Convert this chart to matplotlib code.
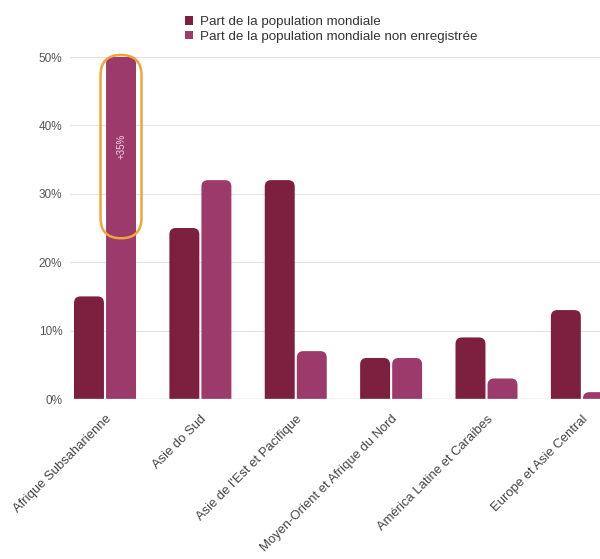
import matplotlib
matplotlib.use("Agg")
import matplotlib.pyplot as plt
from matplotlib.patches import FancyBboxPatch, Patch, Rectangle

plt.rcParams['font.family'] = ['Liberation Sans', 'DejaVu Sans']

regions = ["Afrique Subsaharienne", "Asie do Sud", "Asie de l'Est et Pacifique",
           "Moyen-Orient et Afrique du Nord", "América Latine et Caraibes",
           "Europe et Asie Central"]
part_mondiale = [15, 25, 32, 6, 9, 13]
part_non_enreg = [50, 32, 7, 6, 3, 1]
series_names = ["Part de la population mondiale",
                "Part de la population mondiale non enregistrée"]
yticks = [0, 10, 20, 30, 40, 50]

dark = "#7d1f3e"
light = "#9c3a6c"

W, H = 600, 559
fig = plt.figure(figsize=(W / 100, H / 100), dpi=100)
ax = fig.add_axes([70 / W, 1 - 399 / H, 530 / W, (399 - 57) / H])

xmin, xmax = -0.367, 5.19
ymin, ymax = 0, 50
ax.set_xlim(xmin, xmax)
ax.set_ylim(ymin, ymax)

px_x = 530 / (xmax - xmin)
px_y = (399 - 57) / (ymax - ymin)
aspect = px_x / px_y

bw = 0.314
off = 0.168
r = 6.5 / px_x

# keep bars above zero, but let the tallest one poke over the top
clip = Rectangle((xmin, 0), xmax - xmin, 60, transform=ax.transData)


def rounded_bar(xc, h, color):
    p = FancyBboxPatch((xc - bw / 2, -r * aspect), bw, h + r * aspect,
                       boxstyle=f"round,pad=0,rounding_size={r}",
                       mutation_aspect=aspect, fc=color, ec="none",
                       zorder=3)
    ax.add_patch(p)
    p.set_clip_path(clip)


xs = range(len(regions))
for i in xs:
    rounded_bar(i - off, part_mondiale[i], dark)
    rounded_bar(i + off, part_non_enreg[i], light)

ax.axhline(0, color="#cccccc", lw=1, zorder=5)

# annotation oval around first non-registered bar
ow = 41 / px_x
oval = FancyBboxPatch((0 + off - ow / 2, 23.5), ow, 26.8,
                      boxstyle=f"round,pad=0,rounding_size={ow / 2}",
                      mutation_aspect=aspect, fc="none", ec="#f0a43a",
                      lw=1.8, clip_on=False, zorder=6)
ax.add_patch(oval)
ax.text(0 + off, 37, "+35%", rotation=90, color="#f4d4e6", fontsize=7,
        ha="center", va="center", zorder=7)

ax.set_yticks(yticks)
ax.set_yticklabels([f"{v}%" for v in yticks], color="#555555", fontsize=8.5)
ax.set_xticks(list(xs))
ax.set_xticklabels(regions, rotation=45, ha="right", rotation_mode="anchor",
                   color="#444444", fontsize=9.4)
ax.tick_params(axis="both", length=0)
ax.tick_params(axis="y", pad=5.5)
ax.tick_params(axis="x", pad=10)
ax.grid(axis="y", color="#e2e2e2", lw=0.8, zorder=0)
for s in ax.spines.values():
    s.set_visible(False)

handles = [Patch(fc=dark), Patch(fc=light)]
fig.legend(handles, series_names, loc="upper left",
           bbox_to_anchor=(173 / W, 1 - 4 / H), frameon=False,
           fontsize=9.6, handlelength=0.6, handleheight=0.6,
           handletextpad=0.5, labelspacing=0.2, labelcolor="#333333")

fig.savefig("out.png", dpi=100)
